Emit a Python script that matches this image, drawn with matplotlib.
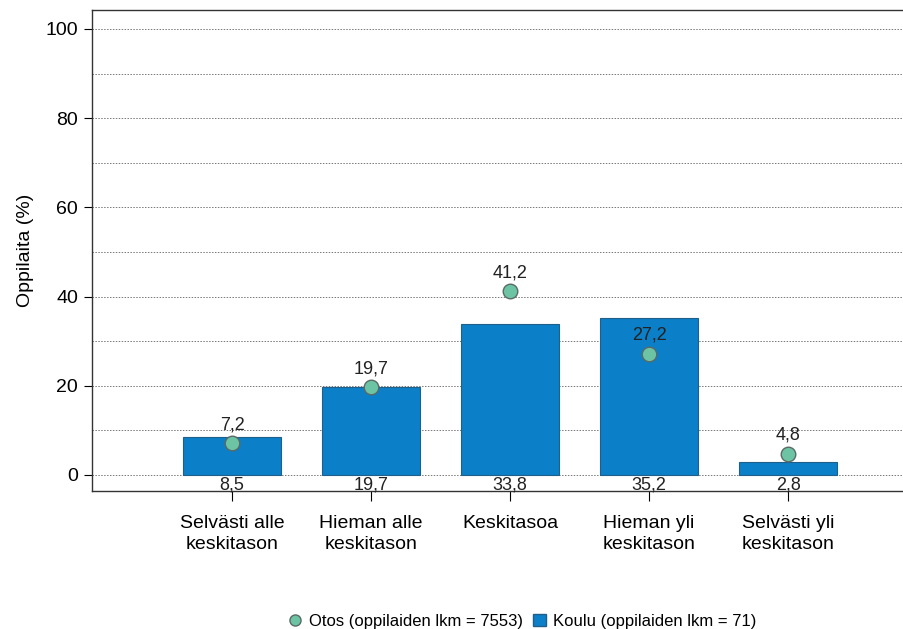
import matplotlib
matplotlib.use("Agg")
import matplotlib.pyplot as plt
from matplotlib.lines import Line2D
from matplotlib.patches import Patch

plt.rcParams['font.family'] = ['Liberation Sans', 'DejaVu Sans']

categories = ["Selvästi alle\nkeskitason", "Hieman alle\nkeskitason", "Keskitasoa",
              "Hieman yli\nkeskitason", "Selvästi yli\nkeskitason"]
koulu = [8.5, 19.7, 33.8, 35.2, 2.8]
otos = [7.2, 19.7, 41.2, 27.2, 4.8]
koulu_labels = ["8,5", "19,7", "33,8", "35,2", "2,8"]
otos_labels = ["7,2", "19,7", "41,2", "27,2", "4,8"]

bar_color = "#0b7fc7"
dot_color = "#6cc4a4"

fig = plt.figure(figsize=(9.04, 6.29), dpi=100)
ax = fig.add_axes([0.1018, 0.2194, 0.93, 0.765])

x = list(range(len(categories)))
ax.bar(x, koulu, width=0.7, color=bar_color, edgecolor="#1f5f8a", linewidth=0.8, zorder=2)
ax.scatter(x, otos, s=110, color=dot_color, edgecolors="#5a6a66", linewidths=1.0, zorder=3)

for xi, v, lab in zip(x, otos, otos_labels):
    ax.text(xi, v + 2.2, lab, ha="center", va="bottom", fontsize=13, color="#222222", zorder=4)
for xi, lab in zip(x, koulu_labels):
    ax.text(xi, -0.4, lab, ha="center", va="top", fontsize=13, color="#222222", zorder=4)

ax.set_ylim(-3.6, 104.3)
ax.set_xlim(-1.007, 5.04)
ax.set_yticks([0, 20, 40, 60, 80, 100])
ax.set_yticks(range(0, 101, 10), minor=True)
ax.grid(axis="y", which="both", linestyle=(0, (1.5, 1.5)), color="#777777", linewidth=0.7, zorder=1)
ax.tick_params(axis="y", which="minor", length=0)
ax.tick_params(axis="y", which="major", length=6, labelsize=14, pad=4)
ax.set_xticks(x)
ax.set_xticklabels(categories, fontsize=14, linespacing=1.3)
ax.tick_params(axis="x", length=7, pad=10)
ax.set_ylabel("Oppilaita (%)", fontsize=14, labelpad=8)
for sp in ax.spines.values():
    sp.set_color("#333333")
    sp.set_linewidth(1.0)

handles = [Line2D([], [], marker="o", linestyle="none", markersize=8, markerfacecolor=dot_color,
                  markeredgecolor="#5a6a66", label="Otos (oppilaiden lkm = 7553)"),
           Patch(facecolor=bar_color, edgecolor="#1f5f8a", label="Koulu (oppilaiden lkm = 71)")]
fig.legend(handles=handles, loc="center", bbox_to_anchor=(0.578, 0.012), ncol=2, frameon=False,
           fontsize=12, handlelength=0.8, handletextpad=0.4, columnspacing=0.6)

fig.savefig("out.png", dpi=100)
